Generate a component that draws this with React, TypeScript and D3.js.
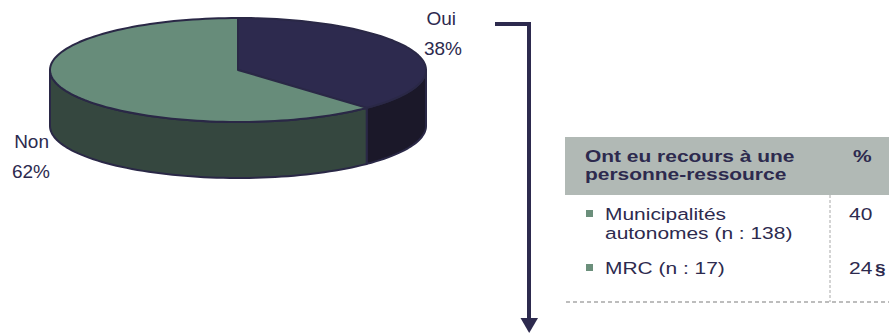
import React from "react";
import * as d3 from "d3";

const categories = ["Oui", "Non"];
const values = [38, 62];
const pctLabels = ["38%", "62%"];
const tableHeader = ["Ont eu recours à une", "personne-ressource"];
const tableRows = [
  { lines: ["Municipalités", "autonomes (n : 138)"], value: "40", note: "" },
  { lines: ["MRC (n : 17)"], value: "24", note: "§" },
];

const W = 889;
const H = 334;
const topColors = ["#2d2a4e", "#678c7a"];
const sideColors = ["#1b1829", "#35473f"];
const ink = "#2d2a4e";
const font = "'Liberation Sans', Arial, sans-serif";

export default function App() {
  const cx = 238, cy = 70, rx = 188, ry = 52, depth = 56;
  const pt = (a: number, dy = 0): [number, number] => [cx + rx * Math.sin(a), cy - ry * Math.cos(a) + dy];
  const pie = d3.pie<number>().sort(null).startAngle(0).endAngle(2 * Math.PI);
  const arcs = pie(values);

  const arcPts = (a0: number, a1: number, dy = 0) => {
    const n = Math.max(2, Math.ceil(((a1 - a0) / (2 * Math.PI)) * 180));
    return d3.range(n + 1).map((i) => pt(a0 + ((a1 - a0) * i) / n, dy));
  };
  const line = d3.line();

  const tops = arcs.map((a) => {
    const pts = [[cx, cy] as [number, number], ...arcPts(a.startAngle, a.endAngle)];
    return line(pts) + "Z";
  });
  const sides = arcs.map((a) => {
    const s = Math.max(a.startAngle, Math.PI / 2);
    const e = Math.min(a.endAngle, (3 * Math.PI) / 2);
    if (e <= s) return null;
    const pts = [...arcPts(s, e), ...arcPts(s, e, depth).reverse()];
    return line(pts) + "Z";
  });

  const sx = 1.27;
  const T = (x: number, y: number, txt: string, opts: any = {}) => (
    <text
      transform={`translate(${x},${y}) scale(${sx},1)`}
      fontFamily={font}
      fontSize={16.5}
      fill={ink}
      {...opts}
    >
      {txt}
    </text>
  );

  const rowY = [220, 274];

  return (
    <svg width={W} height={H} style={{ position: "absolute", left: 0, top: 0 }}>
      <rect width={W} height={H} fill="#fff" />
      {sides.map((d, i) =>
        d ? <path key={"s" + i} d={d} fill={sideColors[i]} stroke="#2a2846" strokeWidth={2} strokeLinejoin="round" /> : null
      )}
      {tops.map((d, i) => (
        <path key={"t" + i} d={d} fill={topColors[i]} stroke="#2a2846" strokeWidth={2} strokeLinejoin="round" />
      ))}
      <g fontFamily={font} fontSize={19} fill={ink}>
        <text x={456} y={25} textAnchor="end">{categories[0]}</text>
        <text x={462} y={55} textAnchor="end">{pctLabels[0]}</text>
        <text x={49} y={148} textAnchor="end">{categories[1]}</text>
        <text x={50} y={178} textAnchor="end">{pctLabels[1]}</text>
      </g>
      <polyline points="495,24 529,24 529,320" fill="none" stroke={ink} strokeWidth={4} />
      <polygon points="520.5,318 538,318 529.2,333" fill={ink} />

      <rect x={565} y={137} width={W - 565} height={58} fill="#b1b9b5" />
      {T(585, 162, tableHeader[0], { fontWeight: "bold" })}
      {T(585, 180, tableHeader[1], { fontWeight: "bold" })}
      {T(853, 162, "%", { fontWeight: "bold" })}
      <line x1={830} x2={830} y1={195} y2={302} stroke="#a8a8a8" strokeWidth={1} strokeDasharray="3,2" />
      <line x1={566} x2={W} y1={302} y2={302} stroke="#a8a8a8" strokeWidth={1.5} strokeDasharray="4,3" />
      {tableRows.map((r, i) => (
        <g key={i}>
          <rect x={586} y={rowY[i] - 10} width={7} height={7} fill="#6b8f7b" />
          {r.lines.map((l, j) => (
            <React.Fragment key={j}>{T(605, rowY[i] + j * 19, l)}</React.Fragment>
          ))}
          {T(849, rowY[i], r.value)}
          {r.note ? T(875, rowY[i], r.note, { fontWeight: "bold", fontSize: 15 }) : null}
        </g>
      ))}
    </svg>
  );
}
